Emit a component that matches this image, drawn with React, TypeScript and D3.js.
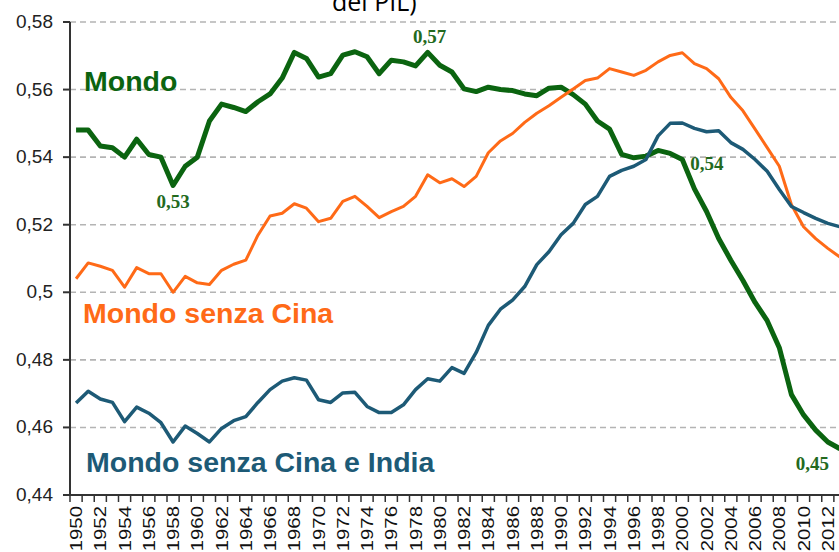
import React from 'react';
import * as d3 from 'd3';

const years: number[] = d3.range(1950, 2014);

// Mondo
const mondo: number[] = [
  0.548, 0.548, 0.5433, 0.5428, 0.540, 0.5453, 0.5408, 0.540, 0.5316, 0.5373,
  0.540, 0.5507, 0.5557, 0.5547, 0.5535, 0.5564, 0.5587, 0.5634, 0.571, 0.5692,
  0.5637, 0.5647, 0.5702, 0.5712, 0.5697, 0.5647, 0.5687, 0.5682, 0.567, 0.571,
  0.5672, 0.5652, 0.5602, 0.5594, 0.5607, 0.560, 0.5597, 0.5587, 0.5582, 0.5604,
  0.5607, 0.5585, 0.5557, 0.5507, 0.5483, 0.5408, 0.5398, 0.5403, 0.542, 0.5411,
  0.5393, 0.5306, 0.5239, 0.5159, 0.5095, 0.5035, 0.497, 0.4916, 0.4836, 0.4697,
  0.4637, 0.4592, 0.4557, 0.4537,
];

// Mondo senza Cina
const senzaCina: number[] = [
  0.504, 0.5087, 0.5077, 0.5065, 0.5015, 0.5073, 0.5055, 0.5055, 0.500, 0.5047,
  0.5028, 0.5023, 0.5065, 0.5083, 0.5095, 0.5169, 0.5226, 0.5234, 0.5262, 0.5249,
  0.5209, 0.5219, 0.5269, 0.5284, 0.5254, 0.5221, 0.5239, 0.5254, 0.5284, 0.5348,
  0.5324, 0.5336, 0.5313, 0.5343, 0.5413, 0.5448, 0.547, 0.5503, 0.553, 0.5552,
  0.5577, 0.5602, 0.5627, 0.5634, 0.5662, 0.5652, 0.5642, 0.5657, 0.5682, 0.5701,
  0.5709, 0.5677, 0.5662, 0.5632, 0.5577, 0.5537, 0.5483, 0.5428, 0.5373, 0.5259,
  0.5194, 0.5159, 0.513, 0.5104,
];

// Mondo senza Cina e India
const senzaCinaIndia: number[] = [
  0.4672, 0.4707, 0.4684, 0.4674, 0.4617, 0.466, 0.4642, 0.4614, 0.4557, 0.4604,
  0.4582, 0.4557, 0.4597, 0.462, 0.4632, 0.4674, 0.4712, 0.4737, 0.4747, 0.474,
  0.4682, 0.4674, 0.4702, 0.4704, 0.4662, 0.4644, 0.4644, 0.4667, 0.4712, 0.4744,
  0.4737, 0.4777, 0.476, 0.4822, 0.4902, 0.495, 0.4977, 0.5017, 0.5082, 0.512,
  0.517, 0.5204, 0.526, 0.5284, 0.5343, 0.5361, 0.5373, 0.5393, 0.5463, 0.55,
  0.5501, 0.5485, 0.5475, 0.5478, 0.5443, 0.5423, 0.5393, 0.5358, 0.5304, 0.5254,
  0.5236, 0.5219, 0.5204, 0.5194,
];

const yTicks: number[] = [0.44, 0.46, 0.48, 0.5, 0.52, 0.54, 0.56, 0.58];
const yTickLabels: string[] = ['0,44', '0,46', '0,48', '0,5', '0,52', '0,54', '0,56', '0,58'];
const xLabelYears: number[] = years.filter(y => (y - 1950) % 2 === 0);

const annotations = [
  { year: 1958, value: 0.5316, text: '0,53', dx: 0, dy: 22, anchor: 'middle' },
  { year: 1979, value: 0.571, text: '0,57', dx: 2, dy: -9, anchor: 'middle' },
  { year: 2000, value: 0.5393, text: '0,54', dx: 8, dy: 10, anchor: 'start' },
  { year: 2012, value: 0.4557, text: '0,45', dx: -32, dy: 28, anchor: 'start' },
];

const W = 839;
const H = 552;

const GREEN = '#0b6410';
const ORANGE = '#ff6a17';
const BLUE = '#1d5a76';
const SANS = '"Liberation Sans", Arial, sans-serif';

const App: React.FC = () => {
  const x = d3.scaleBand<number>().domain(years).range([70, 846]);
  const bw = x.bandwidth();
  const cx = (yr: number) => (x(yr) as number) + bw / 2;
  const y = d3.scaleLinear().domain([0.44, 0.58]).range([495, 22]);

  const line = d3.line<number>()
    .x((_, i) => cx(years[i]))
    .y(d => y(d));

  return (
    <div style={{ position: 'absolute', left: 0, top: 0 }}>
      <svg width={W} height={H} style={{ display: 'block', background: '#fff' }}>
        {/* title, cut off at the top as in the source */}
        <text x={332} y={11} fontFamily='"Open Sans", sans-serif' fontSize={25} fill="#000">del PIL)</text>

        {/* grid */}
        {yTicks.slice(1).map(t => (
          <line key={t} x1={70} x2={W} y1={y(t)} y2={y(t)}
            stroke="#b4b4b4" strokeWidth={1.6} strokeDasharray="6,4" />
        ))}

        {/* y axis */}
        <line x1={70} x2={70} y1={y(0.58)} y2={y(0.44)} stroke="#333" strokeWidth={2} />
        {yTicks.map((t, i) => (
          <g key={t}>
            <line x1={63} x2={70} y1={y(t)} y2={y(t)} stroke="#333" strokeWidth={2} />
            <text x={53} y={y(t) + 6} textAnchor="end" fontFamily={SANS} fontSize={19} fill="#222">
              {yTickLabels[i]}
            </text>
          </g>
        ))}

        {/* x axis */}
        <line x1={70} x2={W} y1={y(0.44)} y2={y(0.44)} stroke="#333" strokeWidth={2} />
        {years.map(yr => (
          <line key={yr} x1={x(yr) as number} x2={x(yr) as number} y1={495} y2={502} stroke="#333" strokeWidth={1.5} />
        ))}
        {xLabelYears.map(yr => (
          <text key={yr} transform={`translate(${cx(yr) + 6},${506}) rotate(-90) scale(1.2,1)`}
            textAnchor="end" fontFamily={SANS} fontSize={17} fill="#111">
            {yr}
          </text>
        ))}

        {/* series */}
        <path d={line(mondo) || ''} fill="none" stroke={GREEN} strokeWidth={5} strokeLinejoin="round" />
        <path d={line(senzaCina) || ''} fill="none" stroke={ORANGE} strokeWidth={3} strokeLinejoin="round" />
        <path d={line(senzaCinaIndia) || ''} fill="none" stroke={BLUE} strokeWidth={3.5} strokeLinejoin="round" />

        {/* series labels */}
        <text x={84} y={91} fontFamily={SANS} fontWeight="bold" fontSize={28.5} fill={GREEN}>Mondo</text>
        <text x={83} y={323} fontFamily={SANS} fontWeight="bold" fontSize={28.5} fill={ORANGE}>Mondo senza Cina</text>
        <text x={86} y={472} fontFamily={SANS} fontWeight="bold" fontSize={28.5} fill={BLUE}>Mondo senza Cina e India</text>

        {/* value annotations */}
        {annotations.map(a => (
          <text key={a.text} x={cx(a.year) + a.dx} y={y(a.value) + a.dy} textAnchor={a.anchor}
            fontFamily='"Liberation Serif", "Times New Roman", serif' fontWeight="bold" fontSize={19} fill="#236a1e">
            {a.text}
          </text>
        ))}
      </svg>
    </div>
  );
};

export default App;
